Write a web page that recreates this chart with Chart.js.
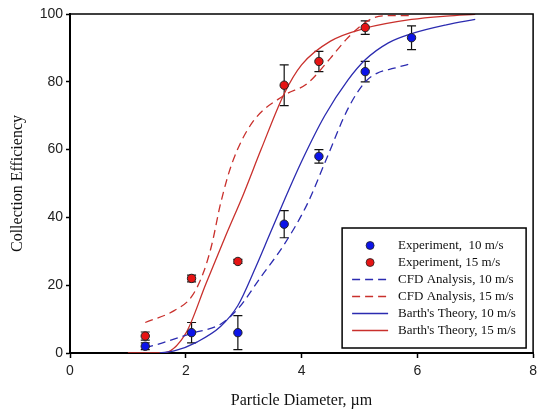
<!DOCTYPE html>
<html>
<head>
<meta charset="UTF-8"/>
<title>Collection Efficiency</title>
<script src="https://cdn.jsdelivr.net/npm/chart.js@4.4.3/dist/chart.umd.min.js"></script>
<style>
  *{box-sizing:border-box;margin:0;padding:0}
  body{background:#fff;width:542px;height:411px;overflow:hidden}
  #wrap{position:relative;width:542px;height:411px}
</style>
</head>
<body>
<div id="wrap"><canvas id="c" width="542" height="411"></canvas></div>
<script>
// ─── Data ────────────────────────────────────────────────────────────────────
const expX      = [1.3, 2.1, 2.9, 3.7, 4.3, 5.1, 5.9];
const exp10Y    = [2, 6, 6, 38, 58, 83, 93];
const exp10Err  = [1, 3, 5, 4, 2, 3, 3.5];
const exp15X    = [1.3, 2.1, 2.9, 3.7, 4.3, 5.1];
const exp15Y    = [5, 22, 27, 79, 86, 96];
const exp15Err  = [1.2, 1, 0.6, 6, 3, 2];

const cfd10X    = [1.3, 1.6, 2.1, 2.6, 2.9, 3.3, 3.7, 4.1, 4.4, 4.8, 5.1, 5.3, 5.6, 5.9];
const cfd10Y    = [1.5, 3, 5.8, 8.5, 13, 22.5, 32, 44, 56, 72, 80, 82.5, 84, 85.4];
const cfd15X    = [1.3, 1.8, 2.1, 2.3, 2.45, 2.6, 2.8, 3.15, 3.7, 4.1, 4.5, 4.8, 5.2, 5.5, 5.9];
const cfd15Y    = [9, 12.5, 16.6, 23.5, 32, 44, 56, 68, 76, 79.5, 87, 93, 98.5, 99.5, 99.5];
const barth10X  = [1.55, 1.8, 2.2, 2.6, 2.9, 3.2, 3.45, 3.7, 4.0, 4.4, 4.8, 5.1, 5.5, 5.9, 6.5, 7.0];
const barth10Y  = [0, 0.6, 3.3, 7.8, 14, 25, 35, 45, 56.5, 70, 80.5, 86.5, 91.5, 94.2, 96.8, 98.4];
const barth15X  = [1.0, 1.6, 2.0, 2.35, 2.7, 3.0, 3.3, 3.7, 4.0, 4.5, 5.1, 5.9, 6.5, 7.0];
const barth15Y  = [0, 0, 5.8, 20.5, 35, 47, 60, 76.5, 85, 92, 95.8, 98.4, 99.4, 99.9];

const labels = ['Experiment,  10 m/s', 'Experiment, 15 m/s', 'CFD Analysis, 10 m/s',
                'CFD Analysis, 15 m/s', "Barth's Theory, 10 m/s", "Barth's Theory, 15 m/s"];

const BLUE_PT = '#0c14e8', RED_PT = '#e61414';
const BLUE_LN = '#2b2bb0', RED_LN = '#c9302c';

const pts = (xs, ys) => xs.map((x, i) => ({ x, y: ys[i] }));

function markerSet(label, xs, ys, err, color) {
  return { label, data: pts(xs, ys), err, showLine: false, pointRadius: 4.2,
    pointBackgroundColor: color, pointBorderColor: '#222', pointBorderWidth: 1, pointHoverRadius: 4.2 };
}
function lineSet(label, xs, ys, color, dashed) {
  return { label, data: pts(xs, ys), showLine: true, pointRadius: 0, borderColor: color,
    borderWidth: 1.3, borderDash: dashed ? [8, 5] : [], cubicInterpolationMode: 'monotone', fill: false };
}

// ─── Error bars + frame + legend ─────────────────────────────────────────────
const errorBars = {
  id: 'errorBars',
  beforeDatasetsDraw(chart) {
    const { ctx, scales: { x, y } } = chart;
    ctx.save();
    ctx.strokeStyle = '#111'; ctx.lineWidth = 1.2;
    chart.data.datasets.forEach(ds => {
      if (!ds.err) return;
      ds.data.forEach((p, i) => {
        const px = x.getPixelForValue(p.x);
        const y1 = y.getPixelForValue(p.y + ds.err[i]), y2 = y.getPixelForValue(p.y - ds.err[i]);
        ctx.beginPath();
        ctx.moveTo(px, y1); ctx.lineTo(px, y2);
        ctx.moveTo(px - 4.5, y1); ctx.lineTo(px + 4.5, y1);
        ctx.moveTo(px - 4.5, y2); ctx.lineTo(px + 4.5, y2);
        ctx.stroke();
      });
    });
    ctx.restore();
  },
  afterDraw(chart) {
    const { ctx, chartArea: a } = chart;
    ctx.save();
    ctx.strokeStyle = '#000'; ctx.lineWidth = 1.5;
    ctx.beginPath();
    ctx.moveTo(a.left, a.top); ctx.lineTo(a.right, a.top); ctx.lineTo(a.right, a.bottom);
    ctx.stroke();

    // legend box
    const bw = 184, bh = 120, bx = a.right - 7 - bw, by = a.bottom - 5 - bh;
    ctx.fillStyle = '#fff'; ctx.fillRect(bx, by, bw, bh);
    ctx.lineWidth = 1.5; ctx.strokeRect(bx, by, bw, bh);
    ctx.font = '13px "Liberation Serif", "Times New Roman", serif';
    ctx.textBaseline = 'middle';
    chart.data.datasets.forEach((ds, i) => {
      const cy = by + 17.5 + i * 17;
      if (ds.showLine) {
        ctx.beginPath();
        ctx.strokeStyle = ds.borderColor; ctx.lineWidth = 1.3;
        ctx.setLineDash(ds.borderDash);
        ctx.moveTo(bx + 10, cy); ctx.lineTo(bx + 46, cy); ctx.stroke();
        ctx.setLineDash([]);
      } else {
        ctx.beginPath();
        ctx.arc(bx + 28, cy, 4, 0, Math.PI * 2);
        ctx.fillStyle = ds.pointBackgroundColor; ctx.fill();
        ctx.strokeStyle = '#222'; ctx.lineWidth = 0.8; ctx.stroke();
      }
      ctx.fillStyle = '#111';
      ctx.fillText(ds.label, bx + 56, cy);
    });
    ctx.restore();
  }
};

const tickFont = { family: '"Liberation Sans", Arial, sans-serif', size: 14 };
const titleFont = { family: '"Liberation Serif", "Times New Roman", serif', size: 16 };

new Chart(document.getElementById('c'), {
  type: 'scatter',
  data: { datasets: [
    markerSet(labels[0], expX, exp10Y, exp10Err, BLUE_PT),
    markerSet(labels[1], exp15X, exp15Y, exp15Err, RED_PT),
    lineSet(labels[2], cfd10X, cfd10Y, BLUE_LN, true),
    lineSet(labels[3], cfd15X, cfd15Y, RED_LN, true),
    lineSet(labels[4], barth10X, barth10Y, BLUE_LN, false),
    lineSet(labels[5], barth15X, barth15Y, RED_LN, false),
  ]},
  options: {
    responsive: false, animation: false, events: [],
    layout: { padding: { left: 0, right: 8, top: 14, bottom: 0 } },
    plugins: { legend: { display: false }, tooltip: { enabled: false } },
    scales: {
      x: {
        type: 'linear', min: 0, max: 8,
        afterFit: s => { s.height = 58; },
        border: { display: true, color: '#000', width: 2 },
        grid: { display: true, drawOnChartArea: false, tickLength: 5, color: '#000', tickWidth: 1.5 },
        ticks: { stepSize: 2, color: '#222', font: tickFont, padding: 5, maxRotation: 0 },
        title: { display: true, text: 'Particle Diameter, \u00b5m', color: '#111', font: titleFont, padding: { top: 0, bottom: 1 } },
      },
      y: {
        type: 'linear', min: 0, max: 100,
        afterFit: s => { s.width = 70; },
        border: { display: true, color: '#000', width: 2 },
        grid: { display: true, drawOnChartArea: false, tickLength: 4, color: '#000', tickWidth: 1.5 },
        ticks: { stepSize: 20, color: '#222', font: tickFont, padding: 3 },
        title: { display: true, text: 'Collection Efficiency', color: '#111', font: titleFont, padding: { top: 8, bottom: 8 } },
      },
    },
  },
  plugins: [errorBars],
});
</script>
</body>
</html>
